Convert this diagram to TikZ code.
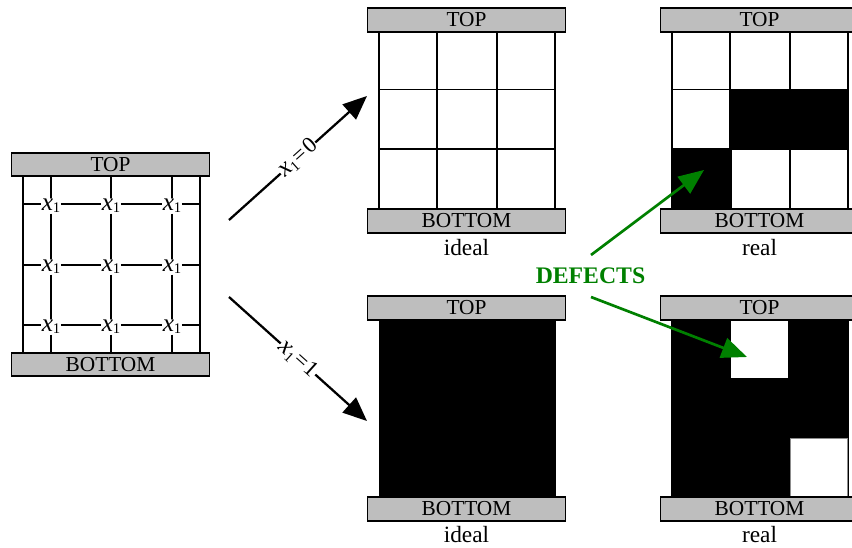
\documentclass[tikz,border=0pt]{standalone}
\usepackage{fontspec}
\setmainfont{Liberation Serif}
\usetikzlibrary{arrows.meta}
\newcommand{\xone}{\textit{\fontsize{19pt}{19pt}\selectfont x}\kern-0.3pt\raisebox{-0.35ex}{\fontsize{11pt}{11pt}\selectfont 1}}
\tikzset{
  bar/.style={draw=black,line width=1.4pt,fill=barfill,minimum width=148.5pt,minimum height=17.5pt,inner sep=0pt,font=\fontsize{16pt}{16pt}\selectfont},
  caption/.style={inner sep=0pt,font=\fontsize{17.5pt}{17.5pt}\selectfont},
  wire/.style={line width=1.3pt},
  thick wire/.style={line width=2pt},
  var/.style={fill=white,inner sep=0.4pt,yshift=-1.5pt},
  flow/.style={line width=1.7pt,-{Triangle[length=18pt,width=15pt]}},
  flowlabel/.style={fill=white,inner sep=0.5pt,sloped,font=\fontsize{17pt}{17pt}\selectfont},
  defect/.style={draw=defectgreen,line width=2pt,-{Triangle[length=19pt,width=15.5pt]}},
  soft/.style={draw=black!45,line width=0.7pt,fill=white},
}
\definecolor{barfill}{HTML}{BEBEBE}
\definecolor{defectgreen}{RGB}{0,128,0}
\begin{document}
\begin{tikzpicture}[x=0.75pt,y=-0.75pt]
\clip (0,0) rectangle (852,548);
\fill[white] (0,0) rectangle (852,548);

% ---- left: switching lattice
\foreach \c/\xx in {a/51,b/111,c/172}{
  \foreach \r/\yy in {1/204,2/265,3/325}{
    \node[var] (n\c\r) at (\xx,\yy) {\xone};
  }
}
\node[bar] (lt) at (110.5,164.5) {TOP};
\node[bar] (lb) at (110.5,364.5) {BOTTOM};
\foreach \c/\yy/\r in {a/204/1,a/265/2,a/325/3}{
  \coordinate (ll\r) at (23,\yy);
  \coordinate (lr\r) at (200,\yy);
  \draw[thick wire] (ll\r) -- (23,\yy -| na\r.west);
  \draw[thick wire] (na\r.east |- 0,\yy) -- (nb\r.west |- 0,\yy);
  \draw[thick wire] (nb\r.east |- 0,\yy) -- (nc\r.west |- 0,\yy);
  \draw[thick wire] (nc\r.east |- 0,\yy) -- (lr\r);
}
\foreach \c/\xx in {a/51,b/111,c/172}{
  \draw[thick wire] (\xx,177) -- (n\c1);
  \draw[thick wire] (n\c1) -- (n\c2);
  \draw[thick wire] (n\c2) -- (n\c3);
  \draw[thick wire] (n\c3) -- (\xx,352);
}
\draw[wire] (23,177) -- (23,352);
\draw[wire] (200,177) -- (200,352);

% ---- ideal, x1 = 0
\draw[wire] (379,32) rectangle (555,209);
\draw[wire] (437,32) -- (437,209);
\draw[wire] (497,32) -- (497,209);
\draw[wire] (379,89.5) -- (555,89.5);
\draw[wire] (379,149) -- (555,149);
\node[bar] (it) at (466.5,20) {TOP};
\node[bar] (ib) at (466.5,221) {BOTTOM};
\node[caption] (ic) at (466.5,248) {ideal};

% ---- real, x1 = 0
\draw[wire] (672,32) rectangle (848,209);
\draw[wire] (730,32) -- (730,209);
\draw[wire] (790,32) -- (790,209);
\draw[wire] (672,89.5) -- (848,89.5);
\draw[wire] (672,149) -- (848,149);
\fill[black] (730,89) rectangle (848.5,150);
\fill[black] (671.5,149) rectangle (731.5,209);
\node[bar] (rt) at (759.5,20) {TOP};
\node[bar] (rb) at (759.5,221) {BOTTOM};
\node[caption] (rc) at (759.5,248) {real};

% ---- ideal, x1 = 1
\fill[black] (379,320) rectangle (556,497);
\node[bar] (jt) at (466.5,308) {TOP};
\node[bar] (jb) at (466.5,509) {BOTTOM};
\node[caption] (jc) at (466.5,535) {ideal};

% ---- real, x1 = 1
\fill[black] (671,320) rectangle (848.5,497);
\fill[white] (731,320) rectangle (788,378);
\draw[soft] (790,438.5) rectangle (847,497);
\node[bar] (st) at (759.5,308) {TOP};
\node[bar] (sb) at (759.5,509) {BOTTOM};
\node[caption] (sc) at (759.5,535) {real};

% ---- flows
\coordinate (fa) at (229,220);
\coordinate (fb) at (367,96);
\coordinate (ga) at (229,297);
\coordinate (gb) at (367,421);
\draw[flow] (fa) -- node[flowlabel] {\xone\kern1pt=\kern1pt0} (fb);
\draw[flow] (ga) -- node[flowlabel] {\xone\kern1pt=\kern1pt1} (gb);

% ---- defects
\node[inner sep=0pt,text=defectgreen,font=\fontsize{17.8pt}{17.8pt}\selectfont\bfseries] (df) at (590.5,276) {DEFECTS};
\coordinate (da) at (591,255);
\coordinate (db) at (704,170);
\coordinate (ea) at (591,297);
\coordinate (eb) at (747,357);
\draw[defect] (da) -- (db);
\draw[defect] (ea) -- (eb);
\end{tikzpicture}
\end{document}
